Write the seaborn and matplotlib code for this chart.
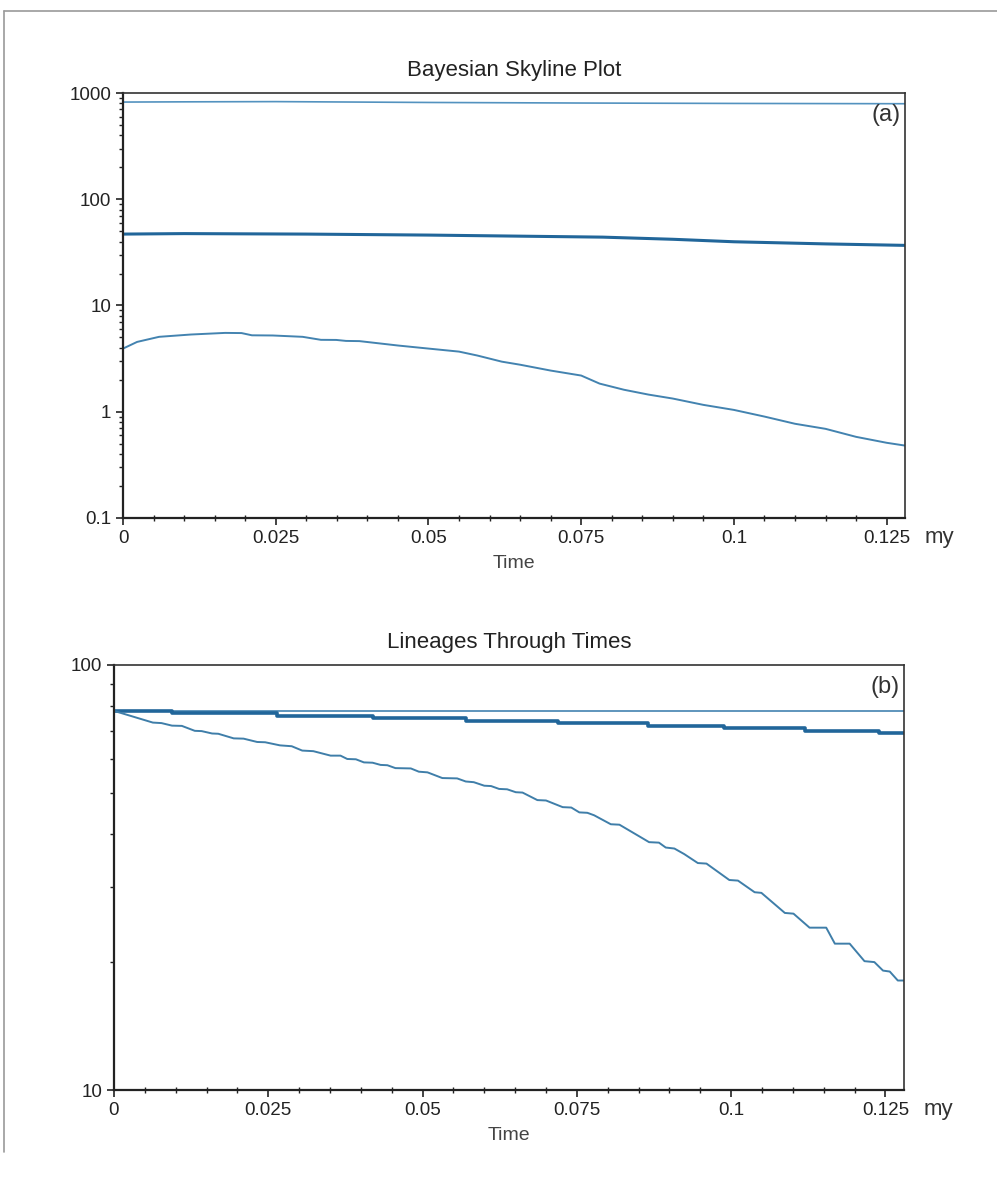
import numpy as np
import pandas as pd
import matplotlib
matplotlib.use("Agg")
import matplotlib.pyplot as plt
import matplotlib.ticker as mticker
from matplotlib.lines import Line2D
import seaborn as sns

# ---- data ----
# (a) Bayesian skyline: upper / median / lower
sky_t_upper = [0.0, 0.01, 0.025, 0.05, 0.075, 0.1, 0.128]
sky_upper = [822, 826, 830, 815, 805, 798, 793]

sky_t_median = [0.0, 0.01, 0.03, 0.05, 0.0785, 0.09, 0.1, 0.115, 0.128]
sky_median = [47, 47.5, 47, 46, 44, 42, 39.8, 38, 36.8]

sky_t_lower = [0.0, 0.0023, 0.0059, 0.0111, 0.0167, 0.0194, 0.0211, 0.0245,
               0.0294, 0.0324, 0.0349, 0.0365, 0.0387, 0.045, 0.05, 0.055,
               0.058, 0.062, 0.065, 0.07, 0.075, 0.078, 0.082, 0.086, 0.09,
               0.095, 0.1, 0.105, 0.11, 0.115, 0.12, 0.125, 0.128]
sky_lower = [3.93, 4.54, 5.07, 5.33, 5.52, 5.5, 5.24, 5.22,
             5.07, 4.75, 4.74, 4.64, 4.62, 4.2, 3.93, 3.68,
             3.38, 2.96, 2.77, 2.44, 2.19, 1.84, 1.61, 1.45, 1.33,
             1.16, 1.04, 0.90, 0.77, 0.69, 0.58, 0.51, 0.48]

# (b) lineages through time
ltt_t_top = [0.0, 0.128]
ltt_top = [78, 78]

ltt_t_mid = [0.0, 0.0094, 0.0264, 0.042, 0.057, 0.072, 0.0865, 0.0989, 0.112, 0.124, 0.128]
ltt_mid = [78, 77, 76, 75, 74, 73, 72, 71, 70, 69, 69]

ltt_t_low = [0.0, 0.0063, 0.0077, 0.0094, 0.011, 0.0131, 0.0142, 0.0159, 0.0169,
             0.0194, 0.021, 0.0232, 0.0245, 0.0269, 0.0288, 0.0305, 0.0323,
             0.0351, 0.0367, 0.0378, 0.0392, 0.0405, 0.0419, 0.0432, 0.0443,
             0.0456, 0.0481, 0.0494, 0.0508, 0.0532, 0.0556, 0.057, 0.0583,
             0.060, 0.0611, 0.0624, 0.0637, 0.0651, 0.0662, 0.0686, 0.0700,
             0.0727, 0.0741, 0.0754, 0.0767, 0.0778, 0.0805, 0.0819, 0.0854,
             0.0867, 0.0883, 0.0894, 0.0908, 0.0924, 0.0946, 0.096, 0.0997,
             0.1011, 0.1038, 0.1049, 0.1087, 0.1101, 0.1127, 0.1154, 0.1168,
             0.1192, 0.1216, 0.1232, 0.1246, 0.1257, 0.1270, 0.1284]
ltt_low = [78, 73.2, 73.0, 72.0, 71.9, 70.0, 69.9, 69.0, 68.9,
           67.2, 67.1, 65.9, 65.8, 64.7, 64.4, 62.9, 62.7,
           61.2, 61.2, 60.1, 60.0, 59.0, 58.9, 58.2, 58.1,
           57.2, 57.1, 56.1, 55.9, 54.2, 54.1, 53.2, 53.0,
           52.0, 51.9, 51.1, 51.0, 50.2, 50.1, 48.1, 48.0,
           46.3, 46.2, 45.0, 44.9, 44.3, 42.2, 42.1, 39.3,
           38.3, 38.2, 37.2, 37.0, 35.9, 34.2, 34.1, 31.2,
           31.1, 29.2, 29.1, 26.1, 26.0, 24.1, 24.1, 22.1,
           22.1, 20.1, 20.0, 19.1, 19.0, 18.1, 18.1]

thin_col = "#4383b0"
thick_col = "#21669a"

sns.set_style("ticks")
plt.rcParams["font.family"] = ["Liberation Sans", "DejaVu Sans"]

fig = plt.figure(figsize=(9.97, 11.82), dpi=100)
ax1 = fig.add_axes([0.1234, 0.5618, 0.7843, 0.3595])
ax2 = fig.add_axes([0.1143, 0.0778, 0.7924, 0.3596])

# frame around the figure (top and left edges visible in the reference)
fig.add_artist(Line2D([0.004, 1.0], [0.9907, 0.9907], color="#9a9a9a", lw=1.2))
fig.add_artist(Line2D([0.004, 0.004], [0.025, 0.9907], color="#9a9a9a", lw=1.2))

# ---- (a) Bayesian Skyline Plot ----
sns.lineplot(x=sky_t_upper, y=sky_upper, ax=ax1, color="#5392bf", lw=1.2)
sns.lineplot(x=sky_t_median, y=sky_median, ax=ax1, color=thick_col, lw=2.2)
sns.lineplot(x=sky_t_lower, y=sky_lower, ax=ax1, color=thin_col, lw=1.4)
ax1.set_yscale("log")
ax1.set_ylim(0.1, 1000)
ax1.set_yticks([0.1, 1, 10, 100, 1000])
ax1.set_yticklabels(["0.1", "1", "10", "100", "1000"])
ax1.set_title("Bayesian Skyline Plot", fontsize=16, color="#222222", pad=12)
ax1.text(0.995, 0.975, "(a)", transform=ax1.transAxes, ha="right", va="top",
         fontsize=17, color="#333333")

# ---- (b) Lineages Through Times ----
sns.lineplot(x=ltt_t_top, y=ltt_top, ax=ax2, color=thin_col, lw=1.2)
sns.lineplot(x=ltt_t_mid, y=ltt_mid, ax=ax2, color=thick_col, lw=2.6,
             drawstyle="steps-post")
sns.lineplot(x=ltt_t_low, y=ltt_low, ax=ax2, color="#3f7ea9", lw=1.4)
ax2.set_yscale("log")
ax2.set_ylim(10, 100)
ax2.set_yticks([10, 100])
ax2.set_yticklabels(["10", "100"])
ax2.set_title("Lineages Through Times", fontsize=16, color="#222222", pad=12)
ax2.text(0.995, 0.975, "(b)", transform=ax2.transAxes, ha="right", va="top",
         fontsize=17, color="#333333")

for ax in (ax1, ax2):
    ax.set_xlim(0, 0.128)
    ax.set_xticks([0, 0.025, 0.05, 0.075, 0.1, 0.125])
    ax.set_xticklabels(["0", "0.025", "0.05", "0.075", "0.1", "0.125"])
    ax.xaxis.set_minor_locator(mticker.MultipleLocator(0.005))
    ax.yaxis.set_minor_locator(mticker.LogLocator(base=10, subs=np.arange(2, 10)))
    ax.yaxis.set_minor_formatter(mticker.NullFormatter())
    ax.set_xlabel("Time", fontsize=14, color="#444444", labelpad=6)
    ax.set_ylabel("")
    ax.tick_params(axis="both", which="major", labelsize=13.5, length=5,
                   width=1.2, colors="#222222", direction="out")
    ax.tick_params(axis="both", which="minor", length=3, width=1.0,
                   colors="#222222", direction="out")
    ax.tick_params(axis="x", which="minor", direction="inout", length=5)
    for side in ("left", "bottom"):
        ax.spines[side].set_linewidth(1.6)
        ax.spines[side].set_color("#222222")
    for side in ("top", "right"):
        ax.spines[side].set_visible(True)
        ax.spines[side].set_linewidth(1.2)
        ax.spines[side].set_color("#333333")
    ax.text(1.025, -0.045, "my", transform=ax.transAxes, ha="left", va="center",
            fontsize=16, color="#333333")

fig.savefig("out.png", dpi=100)
